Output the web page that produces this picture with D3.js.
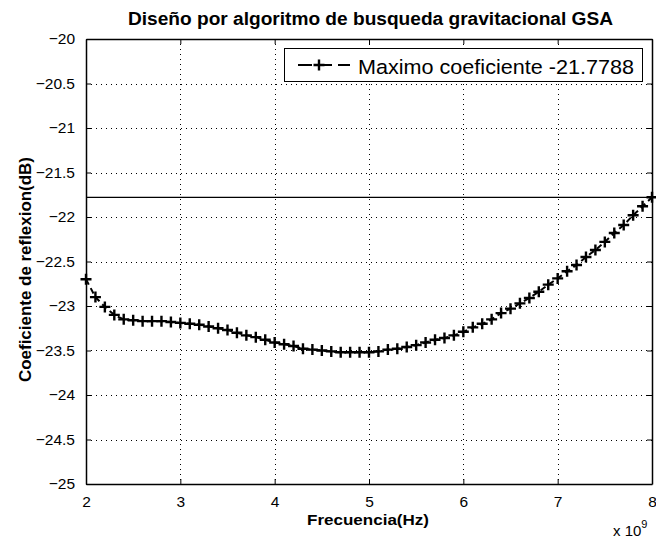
<!DOCTYPE html>
<html><head><meta charset="utf-8">
<script src="https://cdn.jsdelivr.net/npm/d3@7"></script>
<style>body{margin:0;background:#fff}svg{display:block}</style>
</head><body>
<script>
const freqGHz = [2.0,2.1,2.2,2.3,2.4,2.5,2.6,2.7,2.8,2.9,3.0,3.1,3.2,3.3,3.4,3.5,3.6,3.7,3.8,3.9,4.0,4.1,4.2,4.3,4.4,4.5,4.6,4.7,4.8,4.9,5.0,5.1,5.2,5.3,5.4,5.5,5.6,5.7,5.8,5.9,6.0,6.1,6.2,6.3,6.4,6.5,6.6,6.7,6.8,6.9,7.0,7.1,7.2,7.3,7.4,7.5,7.6,7.7,7.8,7.9,8.0];
const reflexionDB = [-22.70,-22.90,-23.01,-23.10,-23.15,-23.16,-23.17,-23.17,-23.17,-23.18,-23.19,-23.20,-23.21,-23.23,-23.25,-23.27,-23.30,-23.33,-23.35,-23.38,-23.41,-23.43,-23.45,-23.48,-23.49,-23.50,-23.51,-23.52,-23.52,-23.52,-23.52,-23.51,-23.49,-23.48,-23.46,-23.44,-23.41,-23.38,-23.36,-23.33,-23.29,-23.24,-23.20,-23.15,-23.08,-23.03,-22.97,-22.91,-22.84,-22.76,-22.69,-22.61,-22.54,-22.45,-22.37,-22.28,-22.18,-22.09,-21.98,-21.88,-21.7788];
const maxCoef = -21.7788;
const xTicks = [2,3,4,5,6,7,8];
const yTicks = [-20,-20.5,-21,-21.5,-22,-22.5,-23,-23.5,-24,-24.5,-25];
const titleText = "Diseño por algoritmo de busqueda gravitacional GSA";
const xLabel = "Frecuencia(Hz)";
const yLabel = "Coeficiente de reflexion(dB)";
const legendLabel = "Maximo coeficiente -21.7788";

const W = 656, H = 542;
const L = 86, R = 652, T = 39, B = 484;
const svg = d3.select("body").append("svg").attr("width", W).attr("height", H);
const x = d3.scaleLinear().domain([2, 8]).range([L, R]);
const y = d3.scaleLinear().domain([-25, -20]).range([B, T]);
const font = "Liberation Sans, Arial, sans-serif";

// grid
const grid = svg.append("g").attr("stroke", "#000").attr("stroke-width", 1).attr("stroke-dasharray", "1,4");
grid.selectAll("line.gx").data(xTicks.filter(d => d > 2 && d < 8)).join("line")
  .attr("x1", d => Math.round(x(d)) + 0.5).attr("x2", d => Math.round(x(d)) + 0.5)
  .attr("y1", T).attr("y2", B);
grid.selectAll("line.gy").data(yTicks.filter(d => d > -25 && d < -20)).join("line")
  .attr("y1", d => Math.round(y(d)) + 0.5).attr("y2", d => Math.round(y(d)) + 0.5)
  .attr("x1", L).attr("x2", R);

// axes (MATLAB box with inner ticks)
const axB = d3.axisBottom(x).tickValues(xTicks).tickSizeInner(-5).tickSizeOuter(0).tickPadding(12).tickFormat(d3.format("d"));
const axT = d3.axisTop(x).tickValues(xTicks).tickSizeInner(-5).tickSizeOuter(0).tickFormat("");
const axL = d3.axisLeft(y).tickValues(yTicks).tickSizeInner(-5).tickSizeOuter(0).tickPadding(11).tickFormat(d3.format("~g"));
const axR = d3.axisRight(y).tickValues(yTicks).tickSizeInner(-5).tickSizeOuter(0).tickFormat("");
function style(g) {
  g.select(".domain").attr("stroke", "#000").attr("stroke-width", 1.5);
  g.selectAll(".tick line").attr("stroke", "#000");
  g.selectAll(".tick text").attr("font-family", font).attr("font-size", 15.5).attr("fill", "#000");
}
svg.append("g").attr("transform", `translate(0,${B})`).call(axB).call(style);
svg.append("g").attr("transform", `translate(0,${T})`).call(axT).call(style);
svg.append("g").attr("transform", `translate(${L},0)`).call(axL).call(style);
svg.append("g").attr("transform", `translate(${R},0)`).call(axR).call(style);

// max line
svg.append("line").attr("x1", L).attr("x2", R)
  .attr("y1", y(maxCoef)).attr("y2", y(maxCoef))
  .attr("stroke", "#000").attr("stroke-width", 1.2);

// data line
const data = freqGHz.map((f, i) => [f, reflexionDB[i]]);
svg.append("path").datum(data)
  .attr("d", d3.line().x(d => x(d[0])).y(d => y(d[1])))
  .attr("fill", "none").attr("stroke", "#000").attr("stroke-width", 2).attr("stroke-dasharray", "6,4");
const s = 5.5;
const plus = (cx, cy) => `M${cx - s},${cy}H${cx + s}M${cx},${cy - s}V${cy + s}`;
svg.append("g").selectAll("path").data(data).join("path")
  .attr("d", d => plus(x(d[0]), y(d[1])))
  .attr("stroke", "#000").attr("stroke-width", 2.4).attr("fill", "none");

// legend
const lg = svg.append("g");
lg.append("rect").attr("x", 284.5).attr("y", 48.5).attr("width", 358).attr("height", 33)
  .attr("fill", "#fff").attr("stroke", "#000").attr("stroke-width", 1);
lg.append("line").attr("x1", 298).attr("x2", 350).attr("y1", 65).attr("y2", 65)
  .attr("stroke", "#000").attr("stroke-width", 2).attr("stroke-dasharray", "14,6");
lg.append("path").attr("d", plus(319, 65)).attr("stroke", "#000").attr("stroke-width", 2.4);
lg.append("text").attr("x", 358).attr("y", 74).attr("font-family", font).attr("font-size", 20.5)
  .attr("textLength", 276).attr("lengthAdjust", "spacingAndGlyphs")
  .attr("fill", "#000").text(legendLabel);

// texts
svg.append("text").attr("x", 128).attr("y", 25)
  .attr("font-family", font).attr("font-weight", "bold").attr("font-size", 18)
  .attr("textLength", 485).attr("lengthAdjust", "spacingAndGlyphs").text(titleText);
svg.append("text").attr("x", 307).attr("y", 525)
  .attr("font-family", font).attr("font-weight", "bold").attr("font-size", 15.5)
  .attr("textLength", 122).attr("lengthAdjust", "spacingAndGlyphs").text(xLabel);
svg.append("text").attr("transform", `translate(31,382) rotate(-90)`)
  .attr("font-family", font).attr("font-weight", "bold").attr("font-size", 16)
  .attr("textLength", 225).attr("lengthAdjust", "spacingAndGlyphs").text(yLabel);
const ex = svg.append("text").attr("x", 613).attr("y", 536).attr("font-family", font).attr("font-size", 15);
ex.append("tspan").text("x 10");
ex.append("tspan").attr("dy", -8).attr("font-size", 11).text("9");
</script>
</body></html>
